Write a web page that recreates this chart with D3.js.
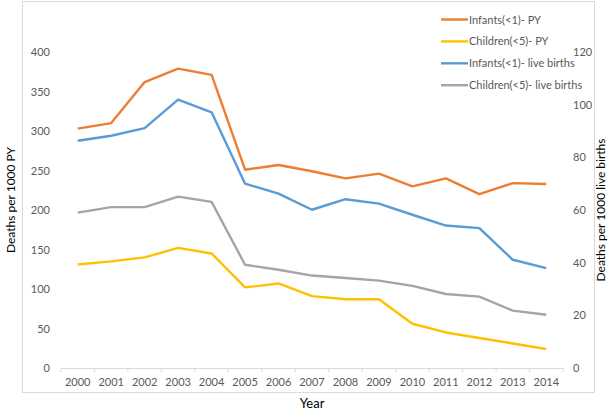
<!DOCTYPE html>
<html>
<head>
<meta charset="utf-8">
<script src="https://cdn.jsdelivr.net/npm/d3@7"></script>
<style>
  body { margin: 0; background: #fff; }
  #d3_chart { width: 615px; height: 413px; }
  text { font-family: Lato, "Open Sans", sans-serif; }
</style>
</head>
<body>
<div id="d3_chart"></div>
<script>
const years = d3.range(2000, 2015).map(String)
// left axis: deaths per 1000 PY
const infants_py = [303, 310, 362, 379, 371, 251, 257, 249, 240, 246, 230, 240, 220, 234, 233]
const children_py = [131, 135, 140, 152, 145, 102, 107, 91, 87, 87, 56, 45, 38, 31, 24]
// right axis: deaths per 1000 live births
const infants_lb = [86.3, 88.2, 91.1, 101.9, 97.1, 70, 66.2, 60.1, 64.1, 62.4, 58.2, 54.1, 53.1, 41.1, 37.9]
const children_lb = [59, 61.1, 61.1, 65.1, 63.1, 39.2, 37.3, 35.1, 34.2, 33.2, 31.2, 28.1, 27.1, 21.8, 20.2]
const left_ticks = [0, 50, 100, 150, 200, 250, 300, 350, 400]
const right_ticks = [0, 20, 40, 60, 80, 100, 120]

const series = [
  {name: 'Infants(<1)- PY', values: infants_py, axis: 'left', color: '#ED7D31'},
  {name: 'Children(<5)- PY', values: children_py, axis: 'left', color: '#FFC000'},
  {name: 'Infants(<1)- live births', values: infants_lb, axis: 'right', color: '#5B9BD5'},
  {name: 'Children(<5)- live births', values: children_lb, axis: 'right', color: '#A5A5A5'}
]

const margin = {top: 52, right: 52, bottom: 45, left: 61}
const width = 615 - margin.left - margin.right
const height = 413 - margin.top - margin.bottom

const svg = d3.select('#d3_chart')
  .append('svg')
  .attr('width', 615)
  .attr('height', 413)

// chart border
svg.append('rect')
  .attr('x', 22.5).attr('y', 1.5)
  .attr('width', 572).attr('height', 391)
  .attr('fill', 'none')
  .attr('stroke', '#D9D9D9')

const g = svg.append('g').attr('transform', 'translate(' + [margin.left, margin.top] + ')')

const x = d3.scaleBand().domain(years).range([0, width])
const y_left = d3.scaleLinear().domain([0, 400]).range([height, 0])
const y_right = d3.scaleLinear().domain([0, 120]).range([height, 0])

// x axis
const x_axis = g.append('g')
  .attr('transform', 'translate(0,' + height + ')')
  .call(d3.axisBottom(x).tickSize(0).tickPadding(10))
x_axis.select('.domain').attr('stroke', '#D9D9D9')
x_axis.selectAll('text').attr('fill', '#595959').style('font-size', '11px')
x_axis.selectAll('.bound')
  .data(d3.range(years.length + 1))
  .enter().append('line')
  .attr('x1', i => i * x.step()).attr('x2', i => i * x.step())
  .attr('y1', 0).attr('y2', 4)
  .attr('stroke', '#D9D9D9')

// left axis
const l_axis = g.append('g')
  .call(d3.axisLeft(y_left).tickValues(left_ticks).tickSize(0).tickPadding(11))
l_axis.select('.domain').remove()
l_axis.selectAll('text').attr('fill', '#595959').style('font-size', '11px')

// right axis
const r_axis = g.append('g')
  .attr('transform', 'translate(' + width + ',0)')
  .call(d3.axisRight(y_right).tickValues(right_ticks).tickSize(0).tickPadding(10))
r_axis.select('.domain').remove()
r_axis.selectAll('text').attr('fill', '#595959').style('font-size', '11px')

// lines
series.forEach(s => {
  const y = s.axis === 'left' ? y_left : y_right
  const line = d3.line()
    .x((d, i) => x(years[i]) + x.bandwidth() / 2)
    .y(d => y(d))
  g.append('path')
    .datum(s.values)
    .attr('fill', 'none')
    .attr('stroke', s.color)
    .attr('stroke-width', 2.4)
    .attr('stroke-linejoin', 'round')
    .attr('d', line)
})

// axis titles
svg.append('text')
  .attr('transform', 'translate(15,200) rotate(-90)')
  .attr('text-anchor', 'middle')
  .style('font-size', '12px')
  .attr('fill', '#000')
  .text('Deaths per 1000 PY')
svg.append('text')
  .attr('transform', 'translate(605,210) rotate(-90)')
  .attr('text-anchor', 'middle')
  .style('font-size', '12px')
  .attr('fill', '#000')
  .text('Deaths per 1000 live births')
svg.append('text')
  .attr('x', 312).attr('y', 408)
  .attr('text-anchor', 'middle')
  .style('font-size', '13px')
  .attr('fill', '#000')
  .text('Year')

// legend
const legend = svg.selectAll('.legend')
  .data(series)
  .enter().append('g')
  .attr('class', 'legend')
  .attr('transform', (d, i) => 'translate(441,' + (19.5 + i * 21.9) + ')')
legend.append('line')
  .attr('x1', 0).attr('x2', 27)
  .attr('stroke', d => d.color)
  .attr('stroke-width', 2.4)
legend.append('text')
  .attr('x', 28).attr('y', 4)
  .attr('fill', '#595959')
  .style('font-size', '11px')
  .text(d => d.name)
</script>
</body>
</html>
